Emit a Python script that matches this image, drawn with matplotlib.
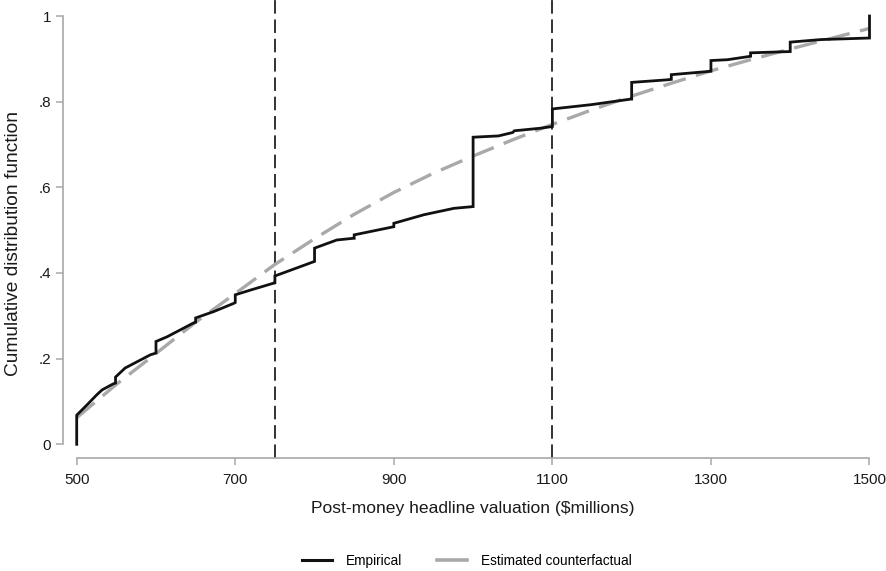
import matplotlib
matplotlib.use('Agg')
import matplotlib.pyplot as plt
from matplotlib.lines import Line2D

# empirical CDF path (vertices, jumps as repeated x)
emp_x = [500, 500, 513, 525, 532, 546, 549, 549, 561, 593, 600, 600, 614, 647, 650, 650,
         673, 698, 700, 700, 719, 748, 750, 750, 775, 800, 800, 828, 849, 850, 850, 900,
         900, 938, 976, 1000, 1000, 1032, 1050, 1052, 1085, 1100, 1100, 1149, 1199, 1200,
         1200, 1245, 1250, 1250, 1300, 1300, 1321, 1350, 1350, 1400, 1400, 1439, 1500, 1500]
emp_y = [0.0, 0.068, 0.092, 0.115, 0.127, 0.141, 0.143, 0.157, 0.178, 0.209, 0.213, 0.24,
         0.251, 0.283, 0.285, 0.295, 0.31, 0.329, 0.331, 0.349, 0.36, 0.376, 0.377, 0.393,
         0.41, 0.427, 0.458, 0.477, 0.481, 0.481, 0.489, 0.508, 0.516, 0.536, 0.551, 0.555,
         0.717, 0.72, 0.728, 0.732, 0.738, 0.742, 0.783, 0.793, 0.806, 0.806, 0.845, 0.851,
         0.852, 0.863, 0.871, 0.896, 0.898, 0.906, 0.914, 0.917, 0.939, 0.945, 0.9486, 1.0]

# estimated counterfactual CDF
cf_x = [500, 550, 600, 650, 700, 750, 800, 850, 900, 950, 1000, 1050, 1100, 1150, 1200,
        1250, 1300, 1350, 1400, 1450, 1500]
cf_y = [0.062, 0.14, 0.212, 0.285, 0.352, 0.42, 0.48, 0.537, 0.588, 0.633, 0.673, 0.711,
        0.747, 0.781, 0.813, 0.843, 0.872, 0.898, 0.923, 0.947, 0.971]

thresholds = [750, 1100]
xticks = [500, 700, 900, 1100, 1300, 1500]
yticks = [0, 0.2, 0.4, 0.6, 0.8, 1.0]
yticklabels = ['0', '.2', '.4', '.6', '.8', '1']

plt.rcParams['font.family'] = ['Liberation Sans', 'DejaVu Sans']
axis_grey = '#a8a8a8'
text_col = '#1a1a1a'

fig = plt.figure(figsize=(8.86, 5.71), dpi=100)
ax = fig.add_axes([76.7 / 886, 1 - 444.3 / 571, (869.5 - 76.7) / 886, 428.3 / 571])
ax.set_xlim(500, 1500)
ax.set_ylim(0, 1)

for t in thresholds:
    ax.plot([t, t], [-0.033, 1.04], color='#222222', lw=1.3, dashes=(7.5, 3.2),
            clip_on=False, zorder=1)

ax.plot(cf_x, cf_y, color='#a9a9a9', lw=2.4, dashes=(7, 3.2), clip_on=False, zorder=2)
ax.plot(emp_x, emp_y, color='#111111', lw=2.0, clip_on=False, zorder=3,
        solid_joinstyle='miter')

for s in ['top', 'right']:
    ax.spines[s].set_visible(False)
for s in ['left', 'bottom']:
    ax.spines[s].set_color(axis_grey)
    ax.spines[s].set_linewidth(1.2)
    ax.spines[s].set_position(('outward', 10))

ax.set_xticks(xticks)
ax.set_xticklabels([str(v) for v in xticks])
ax.set_yticks(yticks)
ax.set_yticklabels(yticklabels)
ax.tick_params(axis='both', colors=axis_grey, length=5, width=1.1, labelcolor=text_col,
               labelsize=11)
ax.tick_params(axis='x', pad=6)
ax.tick_params(axis='y', pad=3.5)

ax.set_xlabel('Post-money headline valuation ($millions)', fontsize=12.6, color=text_col)
ax.xaxis.set_label_coords(0.5, (444.3 - 501) / 428.3)
ax.set_ylabel('Cumulative distribution function', fontsize=13.8, color=text_col)
ax.yaxis.set_label_coords((22 - 76.7) / 792.8, (444.3 - 243) / 428.3)

handles = [Line2D([], [], color='#111111', lw=2.2),
           Line2D([], [], color='#a9a9a9', lw=2.6)]
fig.legend(handles, ['Empirical', 'Estimated counterfactual'], loc='center',
           bbox_to_anchor=(466.7 / 886, 1 - 561 / 571), ncol=2, frameon=False,
           fontsize=9.8, handlelength=2.2, columnspacing=2.6, handletextpad=1.0)

fig.savefig('out.png', dpi=100)
